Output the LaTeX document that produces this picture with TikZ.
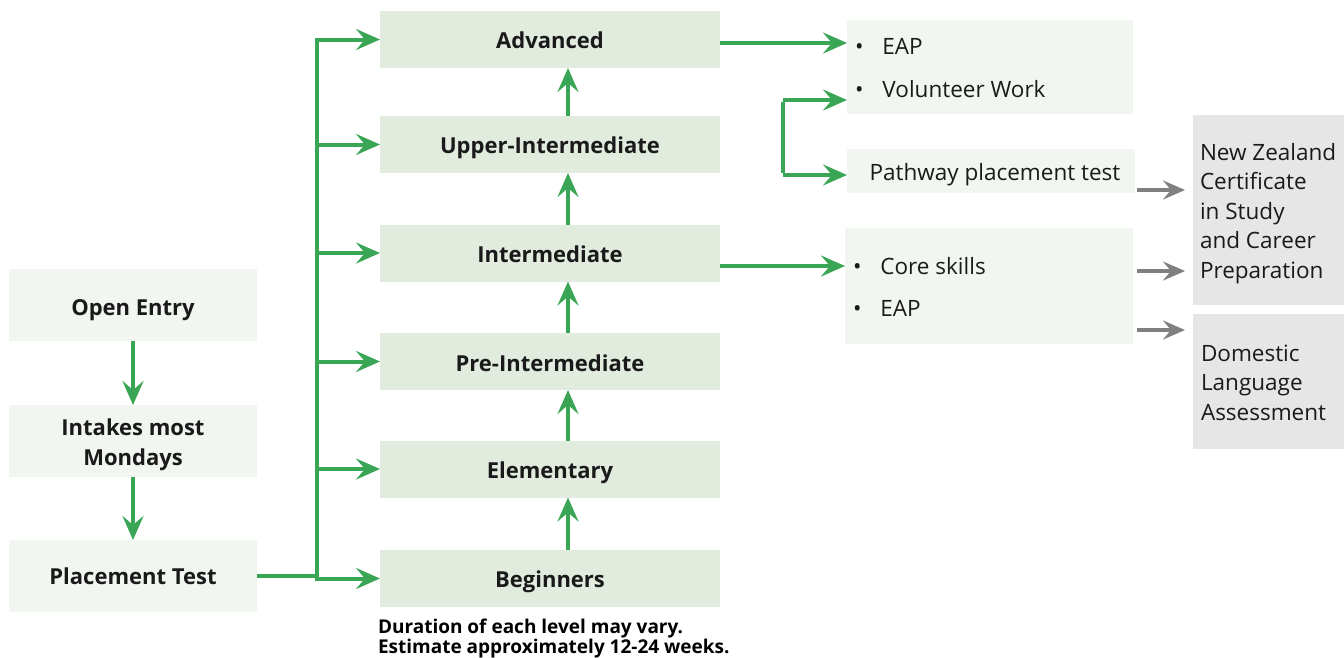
\documentclass[tikz,border=0pt]{standalone}
\usepackage{fontspec}
\setmainfont{Open Sans}
\usetikzlibrary{arrows.meta,calc}
\definecolor{gr}{HTML}{3AA655}
\definecolor{lvlfill}{HTML}{E1ECDF}
\definecolor{lightfill}{HTML}{F1F6F0}
\definecolor{greyfill}{HTML}{E6E6E6}
\definecolor{txt}{HTML}{1A1A1A}
\definecolor{garr}{HTML}{808080}
\begin{document}
\begin{tikzpicture}[x=1pt,y=-1pt,
  every node/.style={text=txt,inner sep=0pt,outer sep=0pt},
  lvl/.style={fill=lvlfill,minimum width=340pt,minimum height=57pt},
  entry/.style={fill=lightfill,minimum width=248pt,minimum height=72pt},
  lbl/.style={anchor=base,font=\fontsize{22}{26}\selectfont\bfseries},
  listbox/.style={fill=lightfill},
  greybox/.style={fill=greyfill},
  item/.style={anchor=base west,font=\fontsize{22.5}{26}\selectfont},
  plain/.style={anchor=base west,font=\fontsize{22.5}{26}\selectfont},
  garrow/.style={draw=gr,line width=4pt,-{Stealth[length=24pt,width=21pt,inset=9pt]}},
  gline/.style={draw=gr,line width=4pt},
  grarrow/.style={draw=garr,line width=4pt,-{Stealth[length=22pt,width=19pt,inset=8pt]}},
  note/.style={anchor=base west,font=\fontsize{19}{22}\selectfont\bfseries,text=black}
]
\useasboundingbox (0,0) rectangle (1344,657);
% left column
\node[entry] (oe) at (133,305) {};
\node[entry] (im) at (133,441) {};
\node[entry] (pt) at (133,576) {};
\node[lbl] (oet) at (133,315) {Open Entry};
\node[lbl] (imt1) at (133,435) {Intakes most};
\node[lbl] (imt2) at (133,465) {Mondays};
\node[lbl] (ptt) at (133,584) {Placement Test};
\draw[garrow] (oe.south) -- (im.north);
\draw[garrow] (im.south) -- (pt.north);
% levels
\node[lvl] (adv) at (550,39.5) {};
\node[lvl] (upi) at (550,144.5) {};
\node[lvl] (int) at (550,253) {};
\node[lvl] (pre) at (550,361.5) {};
\node[lvl] (ele) at (550,469) {};
\node[lvl] (beg) at (550,578.5) {};
\foreach \n/\t/\y in {adv/Advanced/48,upi/Upper-Intermediate/153,int/Intermediate/262,pre/Pre-Intermediate/371,ele/Elementary/478,beg/Beginners/587}
  \node[lbl] (\n t) at (550,\y) {\t};
\foreach \a/\b in {beg/ele,ele/pre,pre/int,int/upi,upi/adv}
  \draw[garrow] ([xshift=18pt]\a.north) -- ([xshift=18pt]\b.south);
% bus
\coordinate (bus) at (317,0);
\draw[gline] (pt.east) -- (pt.east -| bus);
\draw[gline] ([yshift=2pt]bus |- adv.west) -- ([yshift=-2pt]bus |- beg.west);
\foreach \n in {adv,upi,int,pre,ele,beg}
  \draw[garrow] (bus |- \n.west) -- (\n.west);
% right boxes
\node[listbox,minimum width=286pt,minimum height=94pt] (eap) at (990,67) {};
\node[item] (eap1) at (855,54) {\textbullet\hspace{19pt}EAP};
\node[item] (eap2) at (855,97) {\textbullet\hspace{19pt}Volunteer Work};
\node[listbox,minimum width=288pt,minimum height=44pt] (pw) at (991,171) {};
\node[anchor=base,font=\fontsize{22.5}{26}\selectfont] (pwt) at (995,180) {Pathway placement test};
\node[listbox,minimum width=288pt,minimum height=116pt] (core) at (989,286) {};
\node[item] (core1) at (853,274) {\textbullet\hspace{19pt}Core skills};
\node[item] (core2) at (853,316) {\textbullet\hspace{19pt}EAP};
% grey boxes
\node[greybox,minimum width=151pt,minimum height=190pt] (nz) at (1268.5,210) {};
\foreach \t [count=\i] in {New Zealand,Certificate,in Study,and Career,Preparation}
  \node[plain] (nz\i) at (1200,{160+29.5*(\i-1)}) {\t};
\node[greybox,minimum width=151pt,minimum height=135pt] (dla) at (1268.5,381.5) {};
\foreach \t [count=\i] in {Domestic,Language,Assessment}
  \node[plain] (dl\i) at (1201,{361+29.5*(\i-1)}) {\t};
% arrows to right boxes
\draw[garrow] (adv.east |- 0,43) -- (eap.west |- 0,43);
\draw[garrow] ([yshift=-13pt]int.east) -- ([yshift=-13pt]int.east -| core.west);
\coordinate (bt) at (783,100);
\coordinate (bb) at (783,175);
\draw[gline] ([yshift=-2pt]bt) -- ([yshift=2pt]bb);
\draw[garrow] (bt) -- (bt -| eap.west);
\draw[garrow] (bb) -- (bb -| pw.west);
% grey arrows
\coordinate (g1) at (1137,190);
\coordinate (g2) at (1137,271);
\coordinate (g3) at (1137,330);
\draw[grarrow] (g1) -- (g1 -| 1185,0);
\draw[grarrow] (g2) -- (g2 -| 1185,0);
\draw[grarrow] (g3) -- (g3 -| 1185,0);
% note
\node[note] (n1) at (378,633) {Duration of each level may vary.};
\node[note] (n2) at (378,653) {Estimate approximately 12-24 weeks.};
\end{tikzpicture}
\end{document}
